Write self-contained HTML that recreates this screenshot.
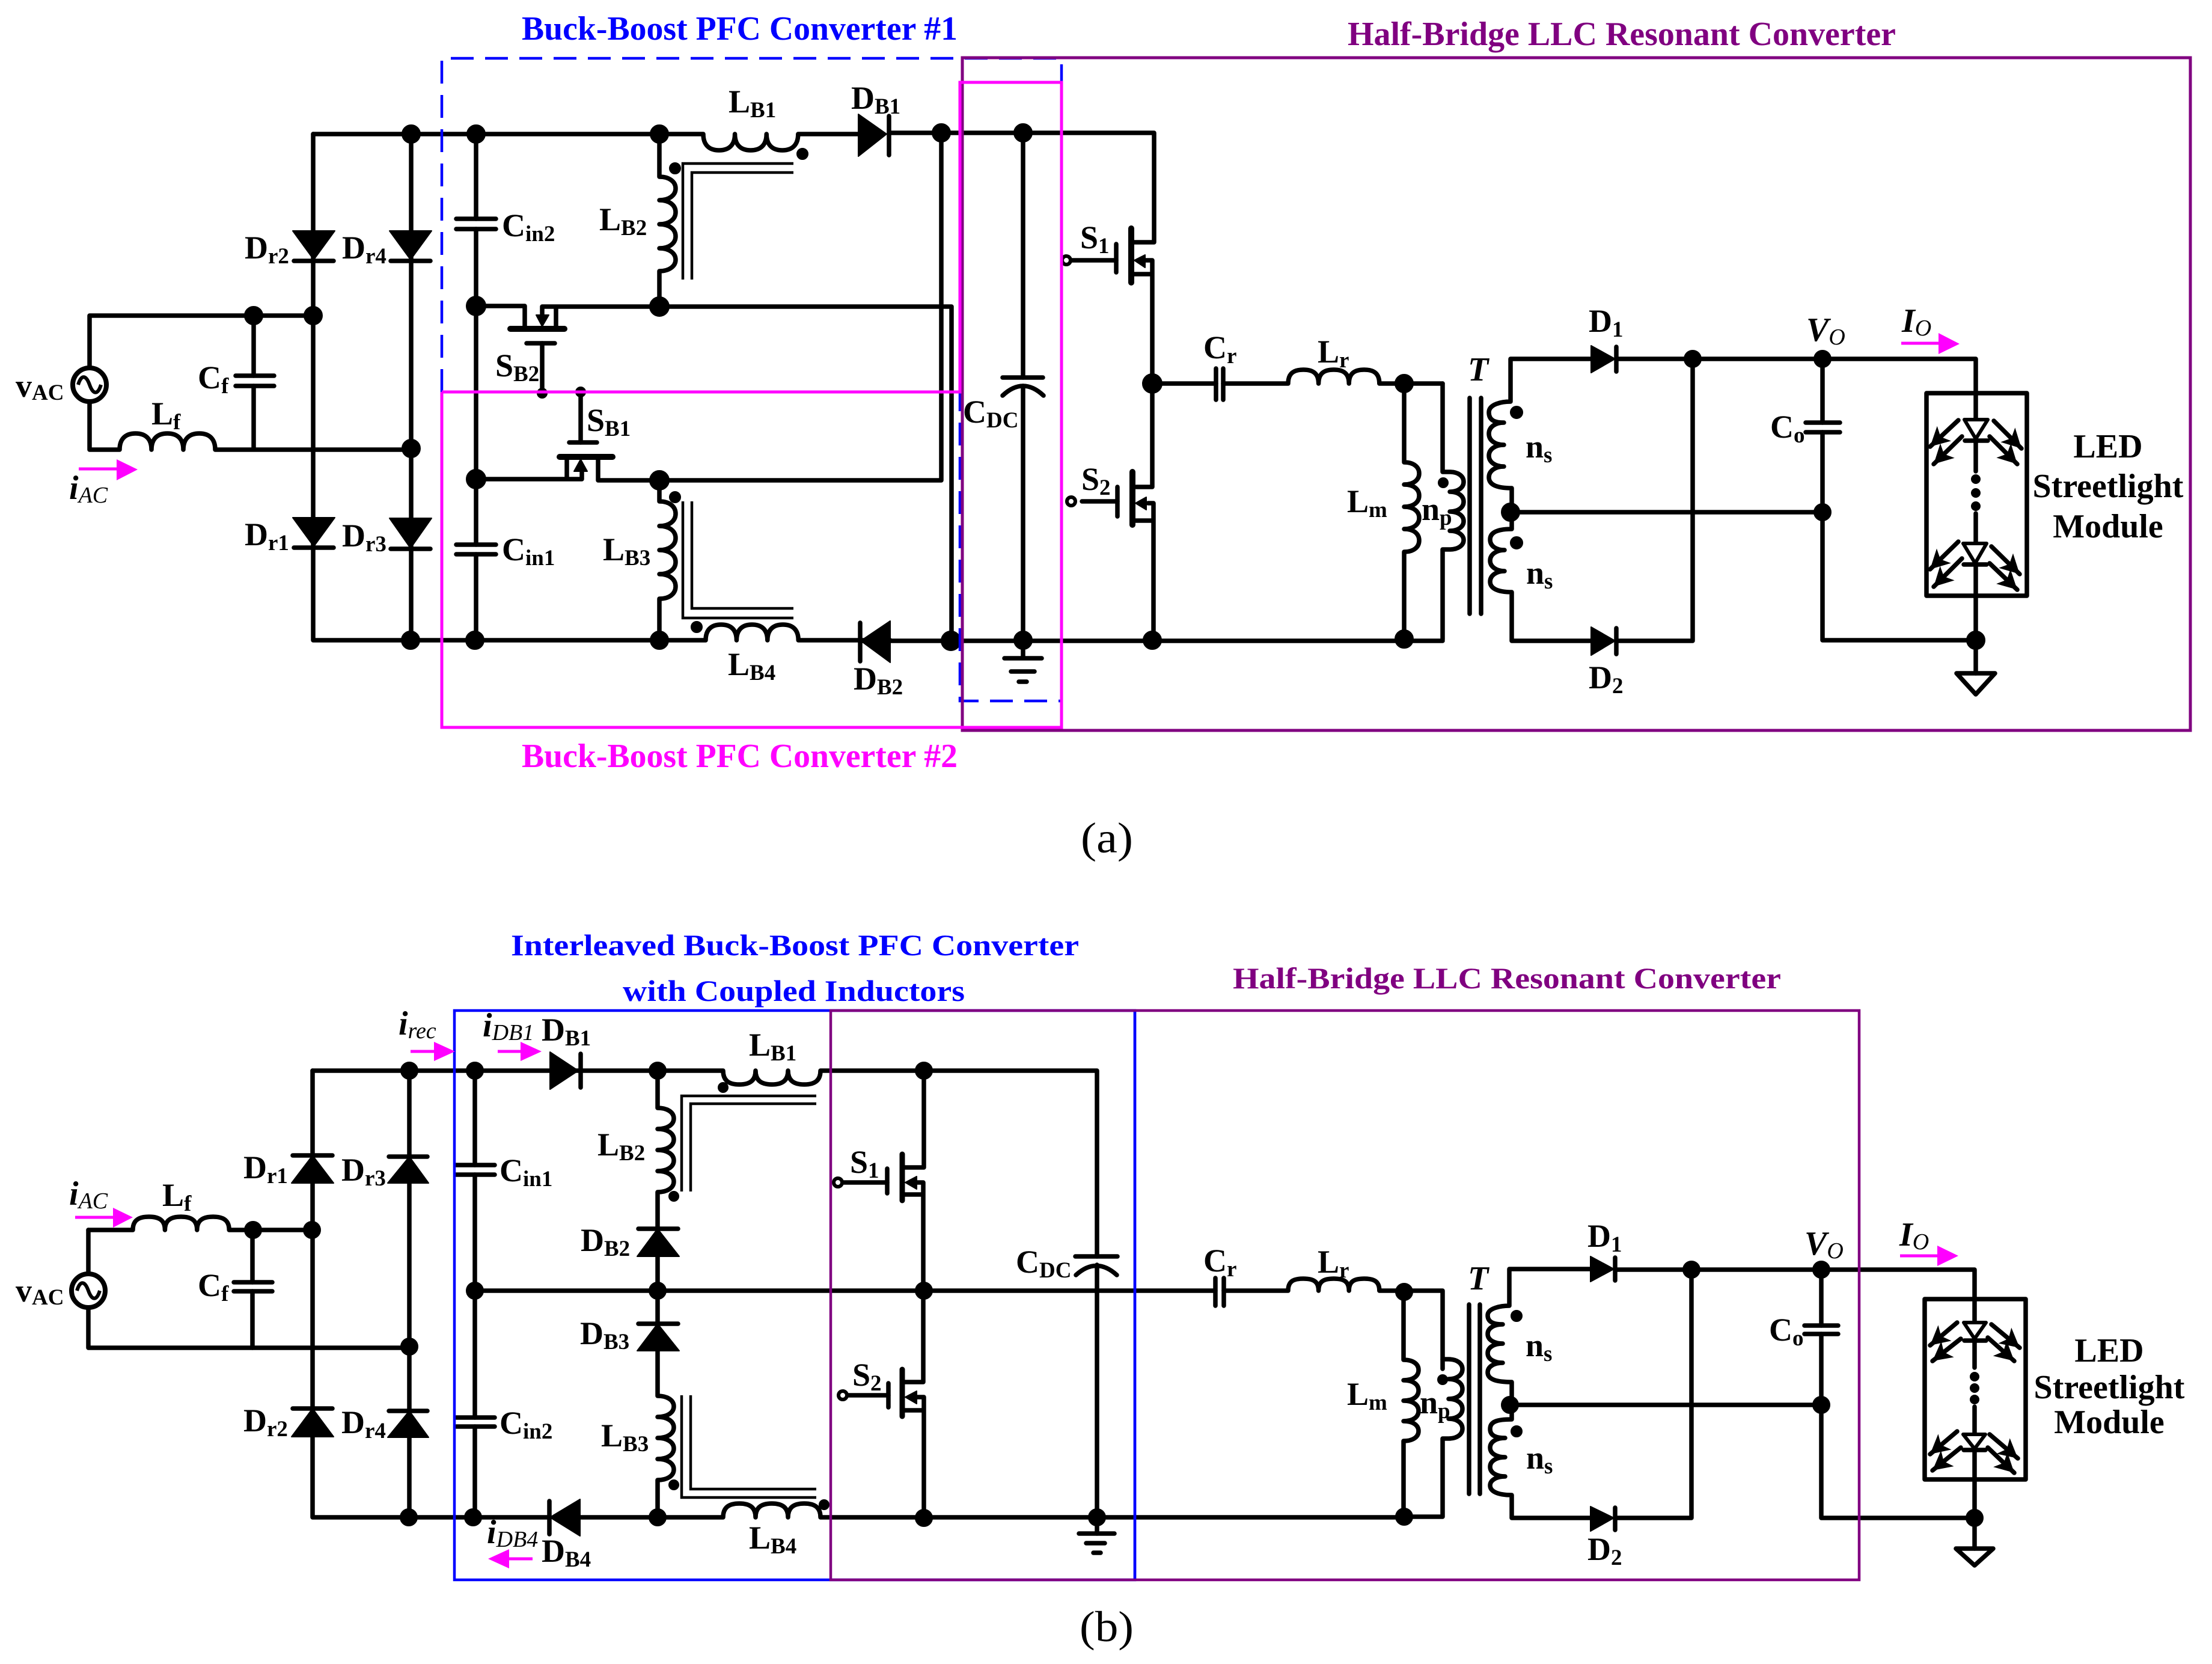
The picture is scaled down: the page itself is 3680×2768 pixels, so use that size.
<!DOCTYPE html>
<html>
<head>
<meta charset="utf-8">
<style>
html,body{margin:0;padding:0;background:#fff}
svg{display:block}
.w{fill:none;stroke:#000;stroke-width:7.5;stroke-linejoin:round;stroke-linecap:round}
.c{fill:none;stroke:#000;stroke-width:4.5;stroke-linecap:butt;stroke-linejoin:miter}
.f{fill:#000;stroke:#000;stroke-width:2;stroke-linejoin:round}
.m{fill:#f0f;stroke:none}
.ml{stroke:#f0f;stroke-width:5;fill:none}
text{font-family:"Liberation Serif",serif;fill:#000}
.l{font-weight:bold;font-size:54px}
.s{font-size:37px}
.i{font-style:italic;font-weight:bold;font-size:56px}
.is{font-style:italic;font-weight:normal;font-size:38px}
.led{font-weight:bold;font-size:56px;text-anchor:middle}
</style>
</head>
<body>
<svg xmlns="http://www.w3.org/2000/svg" width="3680" height="2768" viewBox="0 0 3680 2768">
<defs>
<marker id="h" markerUnits="userSpaceOnUse" markerWidth="48" markerHeight="48" refX="34" refY="24" orient="auto"><path d="M34,24 L2,7 L10,24 L2,41 z" fill="#000"/></marker>
<g id="src"><circle r="28" fill="#fff" stroke="#000" stroke-width="8"/><path d="M-19,0 C-14,-17 -6,-17 0,0 S14,17 19,0" fill="none" stroke="#000" stroke-width="6"/></g>
</defs>

<!-- ========== (a) wires ========== -->
<g class="w">
<path d="M149 525H521M149 525V610M149 670V748H199c0,-16 8,-27 26.500,-27s26.500,11 26.500,27c0,-16 8,-27 26.500,-27s26.500,11 26.500,27c0,-16 8,-27 26.500,-27s26.500,11 26.500,27H684"/>
<path d="M422 525V625M422 642V747"/>
<path d="M521 223V1065H1174c0,-16 8,-26 25.700,-26s25.700,10 25.700,26c0,-16 8,-26 25.700,-26s25.700,10 25.700,26c0,-16 8,-26 25.700,-26s25.700,10 25.700,26H1481"/>
<path d="M521 223H1170c0,16 8,27 26.300,27s26.300,-11 26.300,-27c0,16 8,27 26.300,27s26.300,-11 26.300,-27c0,16 8,27 26.300,27s26.300,-11 26.300,-27H1428"/>
<path d="M684 223V1065M792 223V364M792 381V906M792 922V1065"/>
<path d="M1097 223V294c16,0 27,8 27,19.500s-11,19.500 -27,19.500c16,0 27,8 27,20s-11,20 -27,20c16,0 27,8 27,20s-11,20 -27,20c16,0 27,8 27,19s-11,19 -27,19V509"/>
<path d="M1097 799V834c16,0 27,8 27,20.500s-11,20.500 -27,20.500c16,0 27,8 27,20s-11,20 -27,20c16,0 27,8 27,20s-11,20 -27,20c16,0 27,8 27,20.500s-11,20.500 -27,20.500V1065"/>
<path d="M792 509H873V547M902 510H1583V1066M925 510V547M902 510V530M902 571V654"/>
<path d="M792 797H968V775M943 760V797M966 652V736M995 760V799H1566V221"/>
<path d="M1479 221H1920V403H1887M1702 221V628M1702 642V1093M1431 1066H2400"/>
<path d="M1668 658Q1702 626 1736 658"/>
<path d="M1905 433H1917V776V810H1890M1917 433V456H1885M1910 837H1919V1065M1919 866H1888M1783 433H1857M1800 834H1859"/>
<path d="M1917 638H2023M2035 638H2143c0,-16 8,-23 25.300,-23s25.300,7 25.300,23c0,-16 8,-23 25.300,-23s25.300,7 25.300,23c0,-16 8,-23 25.300,-23s25.300,7 25.300,23H2400"/>
<path d="M2336 638V769c16,0 25,8 25,18.500s-9,18.500 -25,18.500c16,0 25,8 25,18.500s-9,18.500 -25,18.500c16,0 25,8 25,18.500s-9,18.500 -25,18.500c16,0 25,8 25,19s-9,19 -25,19V1063"/>
<path d="M2400 638V785H2412c14,0 23,7 23,16.500s-9,16.500 -23,16.500c14,0 23,7 23,16.500s-9,16.500 -23,16.500c14,0 23,7 23,16s-9,16 -23,16c14,0 23,7 23,15.500s-9,15.500 -23,15.500H2400V1064"/>
<path d="M2647 597H2513V668c-14,0 -36,4 -36,18s11,17 25,17c-14,0 -25,7 -25,18.500s11,18.500 25,18.500c-14,0 -25,7 -25,18s11,18 25,18c-14,0 -25,7 -25,18s11,18 38,18V852V880c-25,0 -36,6 -36,17.500s11,17.500 24,17.500c-13,0 -24,7 -24,17.500s11,17.500 24,17.500c-13,0 -24,7 -24,17.500s11,17.500 36,17.500V1066H2647"/>
<path d="M2689 597H3287V696M2689 1066H2816V597M2513 852H3032M3032 597V703M3032 719V1065H3287M3287 939V1120"/>
<path d="M3287 733V784M3287 854V902"/>
<path d="M392 625H456M392 642H456M759 364H825M759 381H825M759 906H825M759 922H825"/>
<path d="M849 547H939" stroke-width="10" style="stroke-width:10"/><path d="M876 571H923"/>
<path d="M931 760H1019" style="stroke-width:10"/><path d="M947 736H993"/>
<path d="M1668 628H1735M1671 1095H1733M1682 1117H1721M1695 1134H1708"/>
<path d="M1882 380V470" style="stroke-width:10"/><path d="M1857 406V453"/>
<path d="M1884 785V873" style="stroke-width:10"/><path d="M1859 810V859"/>
<path d="M2023 613V665M2035 613V665"/>
<path d="M3004 703H3061M3004 719H3061"/>
<path d="M3205 654H3372V991H3205z"/>
<path d="M1479 193V258M1431 1036V1100M2689 577V618M2689 1045V1088"/>
<path d="M489 434H555M489 911H555M650 434H716M650 913H716"/>
<path d="M3269 733H3307M3267 939H3305"/>
<path d="M3255 1120H3319L3287 1155z"/>
</g>
<g class="w">
<path d="M3268 698H3307L3287 730zM3266 904H3305L3286 937z" fill="#fff" style="stroke-width:6;fill:#fff"/>
</g>
<g class="w">
<path d="M3258 699L3211 743" marker-end="url(#h)"/><path d="M3264 726L3217 772" marker-end="url(#h)"/>
<path d="M3317 700L3363 746" marker-end="url(#h)"/><path d="M3310 726L3356 772" marker-end="url(#h)"/>
<path d="M3258 901L3211 947" marker-end="url(#h)"/><path d="M3264 929L3217 976" marker-end="url(#h)"/>
<path d="M3313 909L3360 955" marker-end="url(#h)"/><path d="M3310 937L3356 981" marker-end="url(#h)"/>
</g>
<g class="c">
<path d="M1136 465V272H1320M1151 465V287H1320M1136 834V1028H1320M1151 834V1012H1320"/>
</g>
<g class="w"><path d="M2445 662V1021M2464 662V1021"/></g>
<g class="f">
<path d="M487 384H557L522 432zM648 384H718L683 432zM487 861H557L522 909zM648 862H718L683 912z"/>
<path d="M1428 190L1475 223L1428 260zM1481 1033L1432 1066L1481 1102z"/>
<path d="M2647 575L2687 597L2647 620zM2647 1043L2687 1066L2647 1090z"/>
<path d="M902 543L892 524H913zM966 764L955 784H977zM1887 433L1905 424V445zM1889 837L1907 827V848z"/>
<circle cx="684" cy="223" r="15"/><circle cx="792" cy="223" r="15"/><circle cx="1097" cy="223" r="15"/>
<circle cx="1566" cy="221" r="15"/><circle cx="1702" cy="221" r="15"/>
<circle cx="422" cy="525" r="15"/><circle cx="521" cy="525" r="15"/>
<circle cx="792" cy="509" r="16"/><circle cx="1097" cy="510" r="16"/>
<circle cx="684" cy="746" r="15"/><circle cx="792" cy="797" r="16"/><circle cx="1097" cy="799" r="16"/>
<circle cx="683" cy="1065" r="15"/><circle cx="790" cy="1065" r="15"/><circle cx="1097" cy="1065" r="15"/>
<circle cx="1582" cy="1066" r="16"/><circle cx="1702" cy="1065" r="15"/>
<circle cx="1917" cy="638" r="16"/><circle cx="1917" cy="1065" r="15"/><circle cx="2336" cy="638" r="15"/><circle cx="2336" cy="1063" r="15"/>
<circle cx="2513" cy="852" r="15"/><circle cx="2816" cy="597" r="14"/><circle cx="3032" cy="597" r="14"/><circle cx="3032" cy="852" r="14"/>
<circle cx="3287" cy="1065" r="15"/>
<circle cx="1123" cy="280" r="9"/><circle cx="1335" cy="256" r="9"/><circle cx="1123" cy="827" r="9"/><circle cx="1159" cy="1043" r="9"/>
<circle cx="2401" cy="803" r="8"/><circle cx="2523" cy="686" r="10"/><circle cx="2523" cy="903" r="10"/>
<circle cx="902" cy="654" r="8"/><circle cx="966" cy="652" r="8"/>
<circle cx="3287" cy="797" r="7"/><circle cx="3287" cy="820" r="7"/><circle cx="3287" cy="842" r="7"/>
</g>
<use href="#src" x="149" y="640"/>
<circle cx="1774" cy="433" r="7" fill="#fff" stroke="#000" stroke-width="6"/>
<circle cx="1782" cy="834" r="7" fill="#fff" stroke="#000" stroke-width="6"/>

<!-- (a) boxes -->
<path d="M735 652V97H1766V1166H1597V652H735" fill="none" stroke="#00f" stroke-width="4.500" stroke-dasharray="38 19"/>
<rect x="1601" y="96" width="2043" height="1119" fill="none" stroke="#800080" stroke-width="5"/>
<path d="M735 652V1210H1766V137H1597V652H735" fill="none" stroke="#f0f" stroke-width="5"/>
<path class="ml" d="M131 780H196"/><path class="m" d="M229 781L194 764V799z"/>
<path class="ml" d="M3163 571H3227"/><path class="m" d="M3260 572L3225 554V589z"/>

<!-- (a) text -->
<text x="868" y="66" font-size="56" font-weight="bold" style="fill:#00f" textLength="725" lengthAdjust="spacingAndGlyphs">Buck-Boost PFC Converter #1</text>
<text x="868" y="1276" font-size="56" font-weight="bold" style="fill:#f0f" textLength="725" lengthAdjust="spacingAndGlyphs">Buck-Boost PFC Converter #2</text>
<text x="2242" y="75" font-size="56" font-weight="bold" style="fill:#800080" textLength="912" lengthAdjust="spacingAndGlyphs">Half-Bridge LLC Resonant Converter</text>
<text x="1798" y="1418" font-size="72" textLength="87" lengthAdjust="spacingAndGlyphs">(a)</text>
<text class="l" x="407" y="430">D<tspan class="s" dy="8">r2</tspan></text>
<text class="l" x="569" y="430">D<tspan class="s" dy="8">r4</tspan></text>
<text class="l" x="407" y="907">D<tspan class="s" dy="8">r1</tspan></text>
<text class="l" x="569" y="909">D<tspan class="s" dy="8">r3</tspan></text>
<text class="l" x="26" y="660">v<tspan class="s" dy="5">AC</tspan></text>
<text class="l" x="329" y="646">C<tspan class="s" dy="8">f</tspan></text>
<text class="l" x="252" y="706">L<tspan class="s" dy="8">f</tspan></text>
<text class="l" x="835" y="393">C<tspan class="s" dy="8">in2</tspan></text>
<text class="l" x="997" y="383">L<tspan class="s" dy="8">B2</tspan></text>
<text class="l" x="1212" y="187">L<tspan class="s" dy="8">B1</tspan></text>
<text class="l" x="1416" y="181">D<tspan class="s" dy="8">B1</tspan></text>
<text class="l" x="835" y="932">C<tspan class="s" dy="8">in1</tspan></text>
<text class="l" x="1003" y="932">L<tspan class="s" dy="8">B3</tspan></text>
<text class="l" x="1211" y="1123">L<tspan class="s" dy="8">B4</tspan></text>
<text class="l" x="1420" y="1147">D<tspan class="s" dy="8">B2</tspan></text>
<text class="l" x="824" y="626">S<tspan class="s" dy="8">B2</tspan></text>
<text class="l" x="976" y="717">S<tspan class="s" dy="8">B1</tspan></text>
<text class="l" x="1602" y="703">C<tspan class="s" dy="8">DC</tspan></text>
<text class="l" x="1797" y="413">S<tspan class="s" dy="8">1</tspan></text>
<text class="l" x="1799" y="815">S<tspan class="s" dy="8">2</tspan></text>
<text class="l" x="2002" y="596">C<tspan class="s" dy="8">r</tspan></text>
<text class="l" x="2192" y="603">L<tspan class="s" dy="8">r</tspan></text>
<text class="l" x="2241" y="852">L<tspan class="s" dy="8">m</tspan></text>
<text class="l" x="2365" y="865">n<tspan class="s" dy="8">p</tspan></text>
<text class="l" x="2538" y="761">n<tspan class="s" dy="8">s</tspan></text>
<text class="l" x="2539" y="971">n<tspan class="s" dy="8">s</tspan></text>
<text class="l" x="2643" y="552">D<tspan class="s" dy="8">1</tspan></text>
<text class="l" x="2643" y="1145">D<tspan class="s" dy="8">2</tspan></text>
<text class="l" x="2945" y="728">C<tspan class="s" dy="8">o</tspan></text>
<text class="i" x="115" y="830">i<tspan class="is" dy="6">AC</tspan></text>
<text class="i" x="2442" y="633">T</text>
<text class="i" x="3005" y="567">V<tspan class="is" dy="6">O</tspan></text>
<text class="i" x="3164" y="552">I<tspan class="is" dy="6">O</tspan></text>
<text class="led" x="3507" y="761">LED</text>
<text class="led" x="3507" y="827">Streetlight</text>
<text class="led" x="3507" y="894">Module</text>

<!-- ========== (b) wires ========== -->
<g class="w">
<path d="M147 2046H221c0,-15 8,-22 26.700,-22s26.700,7 26.700,22c0,-15 8,-22 26.700,-22s26.700,7 26.700,22c0,-15 8,-22 26.700,-22s26.700,7 26.700,22H521"/>
<path d="M147 2046V2120M147 2175V2242H681"/>
<path d="M420 2046V2133M420 2148V2242"/>
<path d="M1094 1781H915M520 1781H915M966 1781H1203c0,15 8,23 27,23s27,-8 27,-23c0,15 8,23 27,23s27,-8 27,-23c0,15 8,23 27,23s27,-8 27,-23H1825V2090M1825 2104V2551"/>
<path d="M520 1781V2524H915M965 2524H1203c0,-15 8,-23 27,-23s27,8 27,23c0,-15 8,-23 27,-23s27,8 27,23c0,-15 8,-23 27,-23s27,8 27,23H2336"/>
<path d="M681 1781V2524M790 1781V1938M790 1954V2358M790 2373V2524"/>
<path d="M1094 1781V1843c16,0 27,7 27,17.500s-11,17.500 -27,17.500c16,0 27,7 27,17.500s-11,17.500 -27,17.500c16,0 27,7 27,17.500s-11,17.500 -27,17.500c16,0 27,7 27,17.500s-11,17.500 -27,17.500V2322c16,0 27,7 27,17.500s-11,17.500 -27,17.500c16,0 27,7 27,17.500s-11,17.500 -27,17.500c16,0 27,7 27,17.500s-11,17.500 -27,17.500c16,0 27,7 27,17.500s-11,17.500 -27,17.500V2524"/>
<path d="M790 2147H2022M2036 2147H2143c0,-15 8,-20 25.300,-20s25.300,5 25.300,20c0,-15 8,-20 25.300,-20s25.300,5 25.300,20c0,-15 8,-20 25.300,-20s25.300,5 25.300,20H2400V2277"/>
<path d="M1537 1781V1942H1503M1525 1967H1536V2299H1503M1536 1987H1503M1525 2324H1537V2524M1537 2346H1503M1402 1967H1476M1410 2321H1478"/>
<path d="M1501 1920V1997" style="stroke-width:9"/><path d="M1501 2278V2356" style="stroke-width:9"/>
<path d="M1476 1944V1985M1478 2301V2341"/>
<path d="M1789 2090H1859M1790 2121Q1824 2090 1858 2121"/>
<path d="M1795 2551H1854M1807 2567H1838M1819 2583H1831"/>
<path d="M389 2133H453M389 2148H453M759 1938H823M759 1954H823M759 2358H823M759 2373H823"/>
<path d="M487 1922H553M487 2343H553M647 1924H711M647 2347H711M1062 2044H1128M1062 2202H1128"/>
<path d="M966 1753V1809M914 2497V2552"/>
<path d="M2022 2126V2172M2036 2126V2172"/>
<path d="M2336 2149H2335V2262c16,0 25,7 25,17s-9,17 -25,17c16,0 25,7 25,17s-9,17 -25,17c16,0 25,7 25,17s-9,17 -25,17c16,0 25,7 25,16.500s-9,16.500 -25,16.500V2523H2400V2393H2410c14,0 23,-7 23,-16.500s-9,-16.500 -23,-16.500c14,0 23,-7 23,-16.500s-9,-16.500 -23,-16.500c14,0 23,-7 23,-16.500s-9,-16.500 -23,-16.500c14,0 23,-7 23,-16.500s-9,-16.500 -23,-16.500H2400"/>
<path d="M2646 2111H2511V2172c-14,0 -36,4 -36,16s11,15 25,15c-14,0 -25,6 -25,16s11,16 25,16c-14,0 -25,6 -25,16s11,16 25,16c-14,0 -25,6 -25,16s11,16 40,16V2361c-25,0 -36,4 -36,16s11,15 25,15c-14,0 -25,6 -25,16s11,16 25,16c-14,0 -25,6 -25,16s11,16 25,16c-14,0 -25,6 -25,15s11,16 36,16V2525H2646"/>
<path d="M2687 2112H3285V2200M2687 2525H2814V2112M2512 2337H3030M3030 2112V2205M3030 2219V2525H3285M3285 2412V2576"/>
<path d="M3285 2230V2275M3285 2340V2386"/>
<path d="M3002 2205H3058M3002 2219H3058"/>
<path d="M3202 2161H3370V2461H3202z"/>
<path d="M2687 2092V2130M2687 2508V2545"/>
<path d="M3268 2230H3304M3267 2412H3303"/>
<path d="M3254 2576H3316L3285 2604z"/>
<path d="M2444 2170V2485M2462 2170V2485"/>
</g>
<g class="w"><path d="M3267 2200H3304L3285 2227zM3266 2386H3303L3285 2410z" style="stroke-width:6;fill:#fff"/></g>
<g class="w">
<path d="M3256 2200L3211 2238" marker-end="url(#h)"/><path d="M3262 2227L3215 2264" marker-end="url(#h)"/>
<path d="M3313 2203L3360 2242" marker-end="url(#h)"/><path d="M3307 2225L3351 2264" marker-end="url(#h)"/>
<path d="M3256 2381L3211 2419" marker-end="url(#h)"/><path d="M3262 2408L3215 2446" marker-end="url(#h)"/>
<path d="M3310 2386L3357 2426" marker-end="url(#h)"/><path d="M3307 2408L3351 2450" marker-end="url(#h)"/>
</g>
<g class="c">
<path d="M1134 1982V1823H1358M1149 1982V1836H1358M1134 2321V2491H1358M1149 2321V2477H1358"/>
</g>
<g class="f">
<path d="M520 1922L485 1968H555zM681 1924L645 1968H713zM520 2343L485 2390H555zM681 2347L645 2391H713z"/>
<path d="M1094 2044L1060 2090H1130zM1094 2202L1060 2247H1130z"/>
<path d="M915 1750L962 1781L915 1812zM965 2494L915 2524L965 2555z"/>
<path d="M2646 2090L2685 2111L2646 2132zM2646 2506L2685 2525L2646 2547z"/>
<path d="M1506 1967L1525 1957V1978zM1506 2324L1525 2314V2335z"/>
<circle cx="681" cy="1781" r="14"/><circle cx="790" cy="1781" r="14"/><circle cx="1094" cy="1781" r="14"/><circle cx="1537" cy="1781" r="14"/>
<circle cx="421" cy="2046" r="14"/><circle cx="519" cy="2046" r="14"/>
<circle cx="790" cy="2147" r="14"/><circle cx="1094" cy="2147" r="14"/><circle cx="1537" cy="2147" r="14"/>
<circle cx="681" cy="2240" r="14"/>
<circle cx="680" cy="2524" r="14"/><circle cx="787" cy="2524" r="14"/><circle cx="1094" cy="2524" r="14"/><circle cx="1537" cy="2525" r="14"/><circle cx="1825" cy="2524" r="14"/>
<circle cx="2336" cy="2149" r="14"/><circle cx="2336" cy="2523" r="14"/>
<circle cx="2512" cy="2337" r="14"/><circle cx="2814" cy="2112" r="14"/><circle cx="3030" cy="2112" r="14"/><circle cx="3030" cy="2337" r="14"/><circle cx="3285" cy="2525" r="14"/>
<circle cx="1203" cy="1809" r="8"/><circle cx="1121" cy="1990" r="8"/><circle cx="1121" cy="2470" r="8"/><circle cx="1371" cy="2503" r="8"/>
<circle cx="2400" cy="2295" r="8"/><circle cx="2523" cy="2189" r="9"/><circle cx="2523" cy="2381" r="9"/>
<circle cx="3285" cy="2290" r="7"/><circle cx="3285" cy="2309" r="7"/><circle cx="3285" cy="2328" r="7"/>
</g>
<use href="#src" x="147" y="2147"/>
<circle cx="1394" cy="1967" r="7" fill="#fff" stroke="#000" stroke-width="6"/>
<circle cx="1402" cy="2321" r="7" fill="#fff" stroke="#000" stroke-width="6"/>

<!-- (b) boxes -->
<rect x="756" y="1681" width="1132" height="947" fill="none" stroke="#00f" stroke-width="4.500"/>
<rect x="1382" y="1681" width="1711" height="947" fill="none" stroke="#800080" stroke-width="4.500"/>
<path d="M1888 1683V2626" stroke="#00f" stroke-width="4.500" fill="none"/>
<path class="ml" d="M125 2025H190"/><path class="m" d="M221 2025L188 2009V2042z"/>
<path class="ml" d="M683 1749H724"/><path class="m" d="M757 1749L722 1733V1765z"/>
<path class="ml" d="M828 1749H868"/><path class="m" d="M901 1749L866 1733V1765z"/>
<path class="ml" d="M886 2593H845"/><path class="m" d="M812 2593L847 2577V2609z"/>
<path class="ml" d="M3161 2089H3225"/><path class="m" d="M3258 2089L3223 2072V2106z"/>

<!-- (b) text -->
<text x="850" y="1589" font-size="50" font-weight="bold" style="fill:#00f" textLength="945" lengthAdjust="spacingAndGlyphs">Interleaved Buck-Boost PFC Converter</text>
<text x="1036" y="1665" font-size="50" font-weight="bold" style="fill:#00f" textLength="569" lengthAdjust="spacingAndGlyphs">with Coupled Inductors</text>
<text x="2051" y="1644" font-size="50" font-weight="bold" style="fill:#800080" textLength="912" lengthAdjust="spacingAndGlyphs">Half-Bridge LLC Resonant Converter</text>
<text x="1796" y="2730" font-size="72" textLength="90" lengthAdjust="spacingAndGlyphs">(b)</text>
<text class="l" x="26" y="2165">v<tspan class="s" dy="5">AC</tspan></text>
<text class="l" x="270" y="2006">L<tspan class="s" dy="8">f</tspan></text>
<text class="l" x="329" y="2156">C<tspan class="s" dy="8">f</tspan></text>
<text class="l" x="405" y="1960">D<tspan class="s" dy="8">r1</tspan></text>
<text class="l" x="568" y="1964">D<tspan class="s" dy="8">r3</tspan></text>
<text class="l" x="405" y="2381">D<tspan class="s" dy="8">r2</tspan></text>
<text class="l" x="568" y="2384">D<tspan class="s" dy="8">r4</tspan></text>
<text class="l" x="831" y="1965">C<tspan class="s" dy="8">in1</tspan></text>
<text class="l" x="831" y="2385">C<tspan class="s" dy="8">in2</tspan></text>
<text class="l" x="901" y="1731">D<tspan class="s" dy="8">B1</tspan></text>
<text class="l" x="1246" y="1756">L<tspan class="s" dy="8">B1</tspan></text>
<text class="l" x="994" y="1922">L<tspan class="s" dy="8">B2</tspan></text>
<text class="l" x="966" y="2081">D<tspan class="s" dy="8">B2</tspan></text>
<text class="l" x="965" y="2236">D<tspan class="s" dy="8">B3</tspan></text>
<text class="l" x="1000" y="2406">L<tspan class="s" dy="8">B3</tspan></text>
<text class="l" x="901" y="2598">D<tspan class="s" dy="8">B4</tspan></text>
<text class="l" x="1246" y="2576">L<tspan class="s" dy="8">B4</tspan></text>
<text class="l" x="1414" y="1951">S<tspan class="s" dy="8">1</tspan></text>
<text class="l" x="1418" y="2305">S<tspan class="s" dy="8">2</tspan></text>
<text class="l" x="1690" y="2117">C<tspan class="s" dy="8">DC</tspan></text>
<text class="l" x="2002" y="2115">C<tspan class="s" dy="8">r</tspan></text>
<text class="l" x="2192" y="2117">L<tspan class="s" dy="8">r</tspan></text>
<text class="l" x="2241" y="2337">L<tspan class="s" dy="8">m</tspan></text>
<text class="l" x="2362" y="2351">n<tspan class="s" dy="8">p</tspan></text>
<text class="l" x="2538" y="2256">n<tspan class="s" dy="8">s</tspan></text>
<text class="l" x="2539" y="2443">n<tspan class="s" dy="8">s</tspan></text>
<text class="l" x="2641" y="2074">D<tspan class="s" dy="8">1</tspan></text>
<text class="l" x="2641" y="2595">D<tspan class="s" dy="8">2</tspan></text>
<text class="l" x="2943" y="2230">C<tspan class="s" dy="8">o</tspan></text>
<text class="i" x="115" y="2004">i<tspan class="is" dy="6">AC</tspan></text>
<text class="i" x="663" y="1721">i<tspan class="is" dy="6">rec</tspan></text>
<text class="i" x="803" y="1724">i<tspan class="is" dy="6">DB1</tspan></text>
<text class="i" x="810" y="2567">i<tspan class="is" dy="6">DB4</tspan></text>
<text class="i" x="2442" y="2145">T</text>
<text class="i" x="3002" y="2087">V<tspan class="is" dy="6">O</tspan></text>
<text class="i" x="3160" y="2072">I<tspan class="is" dy="6">O</tspan></text>
<text class="led" x="3509" y="2265">LED</text>
<text class="led" x="3509" y="2326">Streetlight</text>
<text class="led" x="3509" y="2384">Module</text>
</svg>
</body>
</html>
